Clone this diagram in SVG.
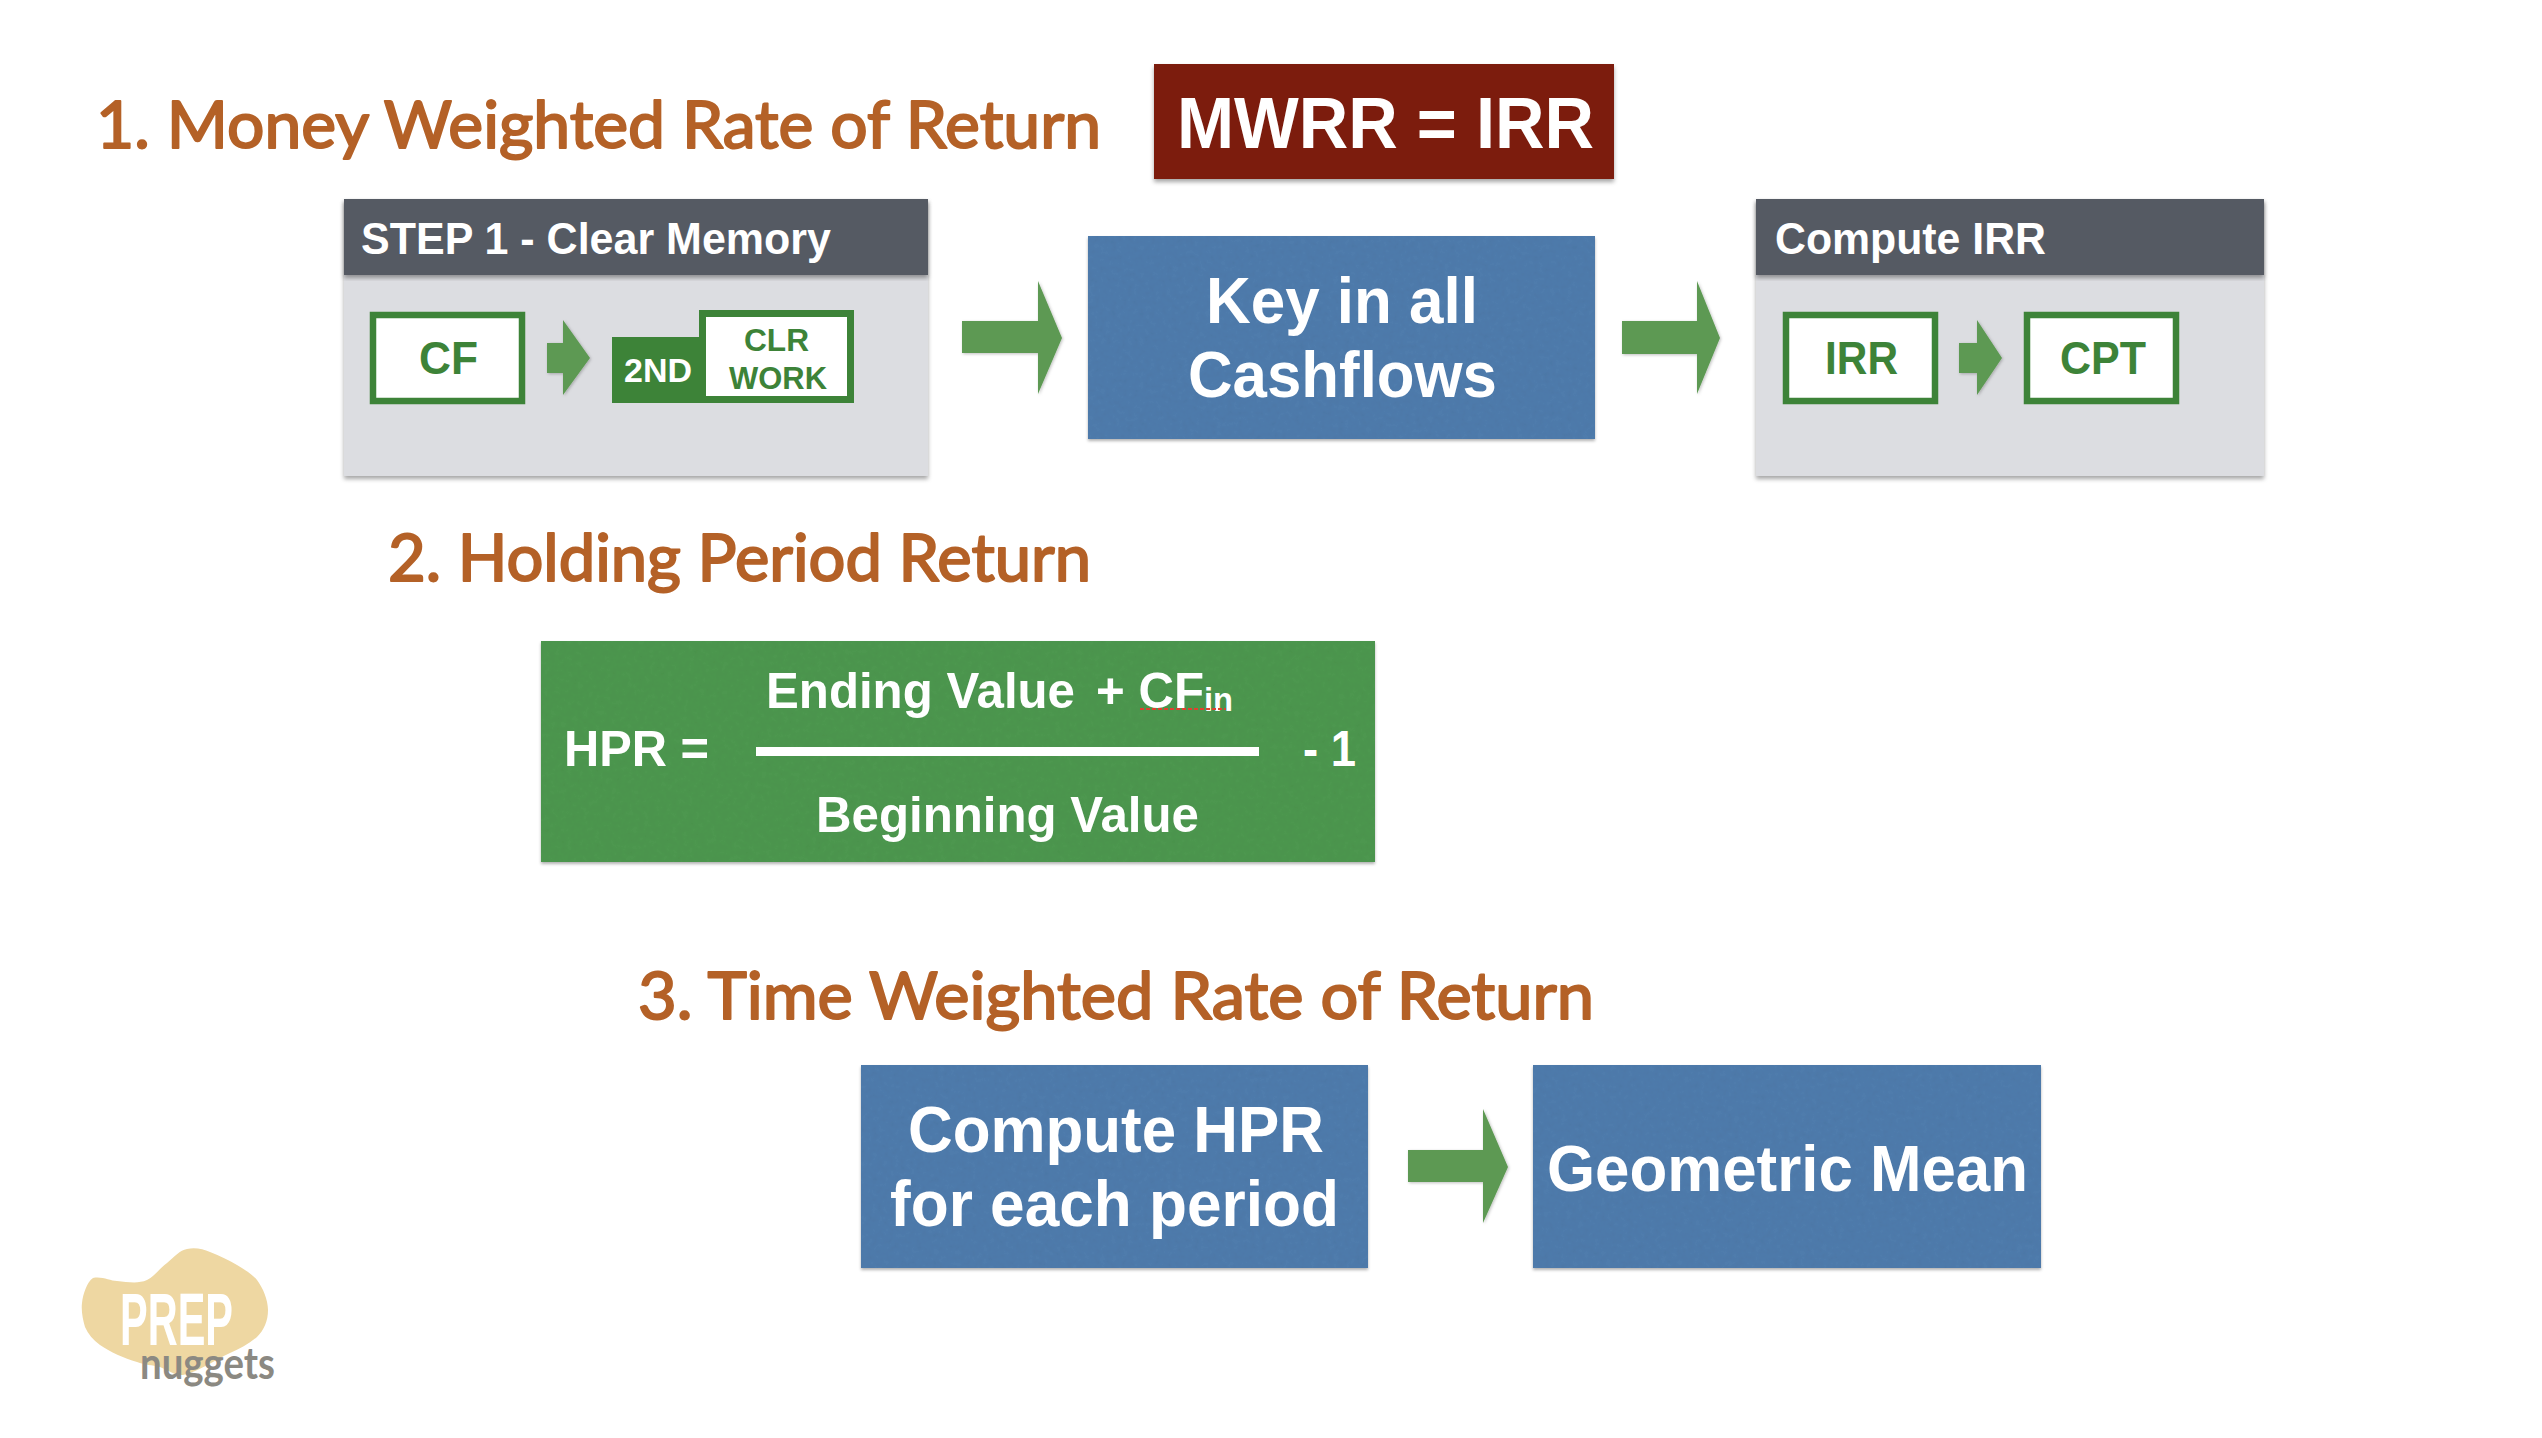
<svg xmlns="http://www.w3.org/2000/svg" width="2542" height="1438" viewBox="0 0 2542 1438">
<defs>
<style>
text{font-family:"Liberation Sans",Arial,sans-serif;font-weight:bold}
.h{font-family:"Lato","Open Sans",sans-serif;font-weight:400;fill:#b46127;stroke:#b46127;stroke-width:2;stroke-linejoin:round;stroke-linecap:round;font-size:66px}
.w{fill:#fff}
.g{fill:#3d8338}
.hd{fill:#555a63}
.panel{fill:#dcdde1}
.blue{fill:#507cac}
.key{fill:#fff;stroke:#3d8338;stroke-width:6.5}
.arr{fill:#5d9952}
</style>
<filter id="sh" x="-5%" y="-5%" width="110%" height="112%"><feDropShadow dx="0" dy="3" stdDeviation="2" flood-color="#000" flood-opacity=".35"/></filter>
<filter id="ash" x="-10%" y="-10%" width="120%" height="120%"><feDropShadow dx="1" dy="1" stdDeviation="1.5" flood-color="#000" flood-opacity=".25"/></filter>
<filter id="paper" x="-3%" y="-3%" width="106%" height="108%">
<feDropShadow in="SourceGraphic" dx="0" dy="2" stdDeviation="1.5" flood-color="#000" flood-opacity=".3" result="base"/>
<feTurbulence type="fractalNoise" baseFrequency=".18" numOctaves="3" seed="3"/>
<feColorMatrix values="0 0 0 0 0  0 0 0 0 0  0 0 0 0 0  0 0 0 .1 -.03"/>
<feComposite in2="SourceGraphic" operator="in" result="n"/>
<feMerge><feMergeNode in="base"/><feMergeNode in="n"/></feMerge>
</filter>
</defs>
<rect width="2542" height="1438" fill="#fff"/>
<text id="title1" class="h" x="96" y="148" textLength="1005" lengthAdjust="spacingAndGlyphs">1. Money Weighted Rate of Return</text>
<g id="mwrr"><rect x="1154" y="64" width="460" height="115" fill="#7c1f11" filter="url(#sh)"/><text class="w" x="1177" y="148" font-size="73" textLength="417" lengthAdjust="spacingAndGlyphs">MWRR = IRR</text></g>
<g id="step1">
<rect class="panel" x="344" y="199" width="584" height="277" filter="url(#sh)"/>
<rect class="hd" x="344" y="199" width="584" height="76" filter="url(#sh)"/>
<text class="w" x="361" y="254" font-size="45" textLength="470" lengthAdjust="spacingAndGlyphs">STEP 1 - Clear Memory</text>
</g>
<g id="cf"><rect class="key" x="373" y="315" width="149" height="86"/><text class="g" x="419" y="374" font-size="46" textLength="59" lengthAdjust="spacingAndGlyphs">CF</text></g>
<g id="clrwork">
<path class="g" d="M612 337H699V310H854V403H612Z"/>
<rect x="706" y="317" width="141" height="79" fill="#fff"/>
<text class="w" x="624" y="382" font-size="34" textLength="68" lengthAdjust="spacingAndGlyphs">2ND</text>
<text class="g" x="744" y="351" font-size="31" textLength="65" lengthAdjust="spacingAndGlyphs">CLR</text>
<text class="g" x="729" y="389" font-size="31" textLength="98" lengthAdjust="spacingAndGlyphs">WORK</text>
</g>
<g id="keyin"><rect class="blue" x="1088" y="236" width="507" height="203" filter="url(#paper)"/>
<text class="w" x="1206" y="323" font-size="65" textLength="272" lengthAdjust="spacingAndGlyphs">Key in all</text>
<text class="w" x="1188" y="397" font-size="65" textLength="309" lengthAdjust="spacingAndGlyphs">Cashflows</text></g>
<g id="compute">
<rect class="panel" x="1756" y="199" width="508" height="277" filter="url(#sh)"/>
<rect class="hd" x="1756" y="199" width="508" height="76" filter="url(#sh)"/>
<text class="w" x="1775" y="254" font-size="45" textLength="271" lengthAdjust="spacingAndGlyphs">Compute IRR</text>
</g>
<g id="irr"><rect class="key" x="1786" y="315" width="149" height="86"/><text class="g" x="1825" y="374" font-size="46" textLength="73" lengthAdjust="spacingAndGlyphs">IRR</text></g>
<g id="cpt"><rect class="key" x="2027" y="315" width="149" height="86"/><text class="g" x="2060" y="374" font-size="46" textLength="86" lengthAdjust="spacingAndGlyphs">CPT</text></g>
<text id="title2" class="h" x="388" y="581" textLength="703" lengthAdjust="spacingAndGlyphs">2. Holding Period Return</text>
<g id="hpr">
<rect x="541" y="641" width="834" height="221" fill="#4e974f" filter="url(#paper)"/>
<text class="w" x="564" y="766" font-size="50" textLength="145" lengthAdjust="spacingAndGlyphs">HPR =</text>
<text class="w" x="766" y="708" font-size="50" textLength="309" lengthAdjust="spacingAndGlyphs">Ending Value</text>
<text class="w" x="1096" y="708" font-size="50" textLength="108" lengthAdjust="spacingAndGlyphs">+ CF</text>
<text class="w" x="1204" y="711" font-size="34" textLength="29" lengthAdjust="spacingAndGlyphs">in</text>
<path d="M1140 709H1226" stroke="#e0402f" stroke-width="2" stroke-dasharray="4 2" fill="none"/>
<rect x="756" y="747" width="503" height="9" fill="#fff"/>
<text class="w" x="1303" y="766" font-size="50" textLength="53" lengthAdjust="spacingAndGlyphs">- 1</text>
<text class="w" x="816" y="832" font-size="50" textLength="383" lengthAdjust="spacingAndGlyphs">Beginning Value</text>
</g>
<text id="title3" class="h" x="638" y="1019" textLength="956" lengthAdjust="spacingAndGlyphs">3. Time Weighted Rate of Return</text>
<g id="computehpr"><rect class="blue" x="861" y="1065" width="507" height="203" filter="url(#paper)"/>
<text class="w" x="908" y="1152" font-size="65" textLength="416" lengthAdjust="spacingAndGlyphs">Compute HPR</text>
<text class="w" x="890" y="1226" font-size="65" textLength="449" lengthAdjust="spacingAndGlyphs">for each period</text></g>
<g id="geomean"><rect class="blue" x="1533" y="1065" width="508" height="203" filter="url(#paper)"/>
<text class="w" x="1547" y="1191" font-size="65" textLength="481" lengthAdjust="spacingAndGlyphs">Geometric Mean</text></g>
<g id="connectors">
<path class="arr" filter="url(#ash)" d="M547 343H563V320L590 358L563 395V373H547Z"/>
<path class="arr" filter="url(#ash)" d="M1959 343H1977V320L2002 358L1977 395V373H1959Z"/>
<path class="arr" filter="url(#ash)" d="M962 321H1038V281L1062 338L1038 394V353H962Z"/>
<path class="arr" filter="url(#ash)" d="M1622 321H1697V281L1720 338L1697 394V354H1622Z"/>
<path class="arr" filter="url(#ash)" d="M1408 1150H1483V1109L1508 1167L1483 1223V1182H1408Z"/>
</g>
<g id="logo">
<path fill="#eed7a2" d="M93 1278C102 1276 110 1281 117 1281C128 1282 138 1284 147 1280C155 1276 160 1268 167 1263C174 1257 180 1250 187 1249C195 1247 203 1249 210 1252C220 1256 229 1260 237 1265C245 1270 252 1274 257 1280C263 1288 268 1300 268 1310C268 1321 264 1330 257 1337C249 1344 240 1349 230 1353C215 1360 198 1372 183 1375C175 1376 168 1370 160 1367C152 1365 145 1365 137 1362C124 1358 110 1352 100 1345C93 1340 88 1334 85 1327C83 1320 81 1311 82 1303C83 1294 87 1282 93 1278Z"/>
<text x="120" y="1345" fill="#fff" font-size="74" textLength="113" lengthAdjust="spacingAndGlyphs">PREP</text>
<text x="140" y="1379" fill="#8b8982" font-size="44" textLength="135" lengthAdjust="spacingAndGlyphs" style="font-family:Lato,sans-serif">nuggets</text>
</g>
</svg>
